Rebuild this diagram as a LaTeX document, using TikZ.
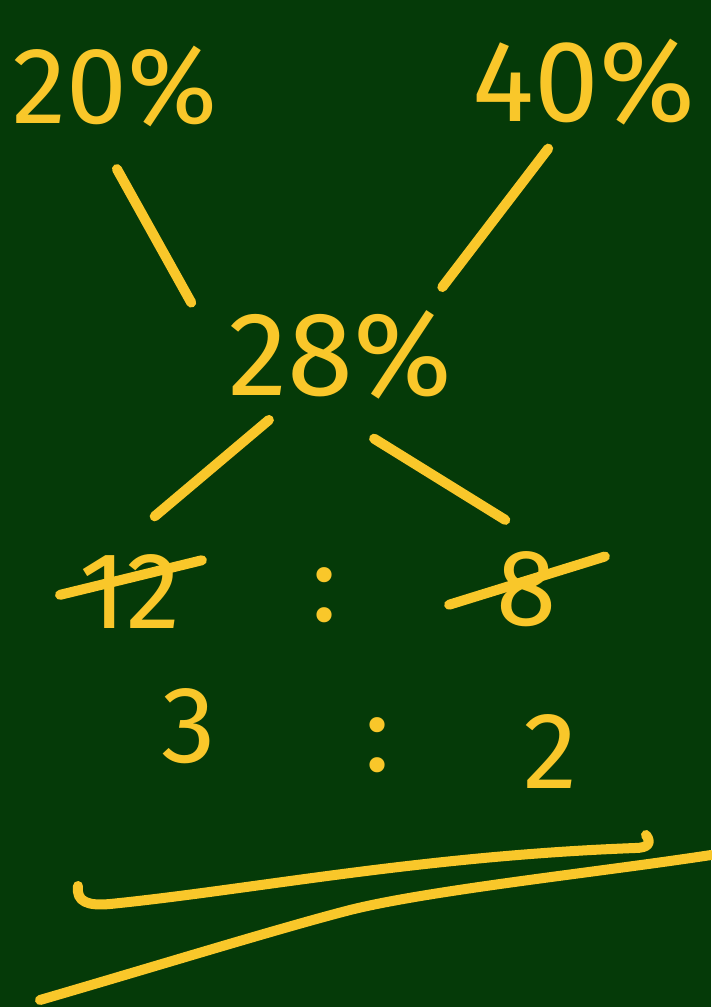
\documentclass[tikz,border=0pt]{standalone}
\usepackage{fontspec}
\setmainfont{Fira Sans}
\usepackage{xcolor}
\usepackage{tikz}
\definecolor{bbBoard}{HTML}{053A08}
\definecolor{bbChalk}{HTML}{F9C72A}
\tikzset{
  bb diagram/.style={x=0.1mm, y=-0.1mm,
    line cap=round, line join=round},
  bb num/.style={text=bbChalk, font=\fontsize{31}{34}\selectfont,
    inner sep=2pt},
  bb big num/.style={bb num, font=\fontsize{33}{36}\selectfont},
  bb stroke/.style={draw=bbChalk, line width=1mm},
  bb strike/.style={bb stroke, shorten <=-1.2mm, shorten >=-1.4mm}
}

\begin{document}
\begin{tikzpicture}[bb diagram]
\fill[bbBoard] (0,0) rectangle (711,1007);
\useasboundingbox (0,0) rectangle (711,1007);
\node[bb num] (p20) at (115,86) {20\%};
\node[bb big num] (p40) at (584,82) {40\%};
\node[bb num, font=\fontsize{34}{38}\selectfont] (p28) at (340,355) {28\%};
\node[bb num] (r12) at (130,592) {12};
\node[bb num] (c1) at (325,595) {:};
\node[bb num] (r8) at (527,589) {8};
\draw[bb stroke, shorten <=4mm, shorten >=6mm] (p20.250) -- (p28.west);
\draw[bb stroke, shorten <=2mm, shorten >=2mm] (p40.245) -- (p28.30);
\draw[bb stroke, shorten <=2mm, shorten >=4.8mm] (p28.223) -- (r12.105);
\draw[bb stroke, shorten <=6mm, shorten >=4.5mm] (p28.252) -- (r8.70);
\draw[bb strike] (r12.west) -- (r12.26);
\draw[bb strike, shorten <=-4.2mm, shorten >=-4.2mm] (r8.185) -- (r8.28);
\node[bb num] (r3) at (189,726) {3};
\node[bb num] (c2) at (378,745) {:};
\node[bb num] (r2) at (550,752) {2};
% answer underlined twice
\draw[bb stroke] (78,886) .. controls (76,902) and (88,906) .. (110,904)
  .. controls (250,890) and (420,856) .. (635,848)
  .. controls (648,848) and (652,843) .. (646,835);
\draw[bb stroke] (40,1000) .. controls (150,968) and (280,928) .. (350,910)
  .. controls (430,890) and (600,872) .. (711,855);
\end{tikzpicture}
\end{document}
